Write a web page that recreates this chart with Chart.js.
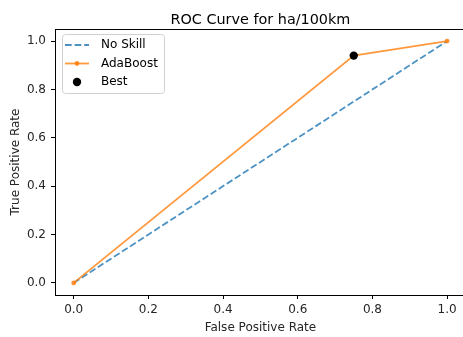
<!DOCTYPE html>
<html>
<head>
<meta charset="utf-8">
<script src="https://cdn.jsdelivr.net/npm/chart.js@4.4.0/dist/chart.umd.min.js"></script>
<style>
  html, body { margin: 0; padding: 0; background: #fff; overflow: hidden; }
  #wrap { width: 463px; height: 337px; overflow: hidden; position: relative; }
  canvas { position: absolute; left: 0; top: 0; }
</style>
</head>
<body>
<div id="wrap"><canvas id="roc" width="470" height="337" style="width:470px;height:337px"></canvas></div>
<script>
// ROC data
const noSkillX = [0, 1];
const noSkillY = [0, 1];
const adaX = [0, 0.75, 1];
const adaY = [0, 0.94, 1];
const bestX = [0.75];
const bestY = [0.94];
const xTicks = [0, 0.2, 0.4, 0.6, 0.8, 1.0];
const yTicks = [0, 0.2, 0.4, 0.6, 0.8, 1.0];
const titleText = 'ROC Curve for ha/100km';

const FONT = 'DejaVu Sans';
const toPoints = (xs, ys) => xs.map((x, i) => ({x: x, y: ys[i]}));

// title, top/right spines and the matplotlib-like legend
const extras = {
    id: 'extras',
    afterDraw(chart) {
        const ctx = chart.ctx;
        const a = chart.chartArea;
        ctx.save();
        ctx.strokeStyle = '#000';
        ctx.lineWidth = 1;
        ctx.beginPath();
        ctx.moveTo(a.left, a.top + 0.5);
        ctx.lineTo(a.right, a.top + 0.5);
        ctx.lineTo(a.right - 0.5, a.bottom);
        ctx.stroke();

        ctx.fillStyle = '#000';
        ctx.font = '14.4px "' + FONT + '"';
        ctx.textAlign = 'center';
        ctx.textBaseline = 'alphabetic';
        ctx.fillText(titleText, (a.left + a.right) / 2, 24);

        // legend box
        const bx = 62, by = 34, bw = 102, bh = 59;
        ctx.fillStyle = 'rgba(255,255,255,0.8)';
        ctx.strokeStyle = '#d0d0d0';
        ctx.beginPath();
        ctx.roundRect(bx + 0.5, by + 0.5, bw, bh, 3);
        ctx.fill();
        ctx.stroke();

        const rows = [45, 63.5, 82];
        chart.data.datasets.forEach((ds, i) => {
            const y = rows[i];
            if (ds.showLine) {
                ctx.strokeStyle = ds.borderColor;
                ctx.lineWidth = ds.borderWidth;
                ctx.setLineDash(ds.borderDash || []);
                ctx.beginPath();
                ctx.moveTo(65, y);
                ctx.lineTo(89, y);
                ctx.stroke();
                ctx.setLineDash([]);
            }
            if (ds.pointRadius > 0) {
                ctx.fillStyle = ds.pointBackgroundColor;
                ctx.beginPath();
                ctx.arc(77, y, ds.pointRadius, 0, Math.PI * 2);
                ctx.fill();
            }
            ctx.fillStyle = '#000';
            ctx.font = '12px "' + FONT + '"';
            ctx.textAlign = 'left';
            ctx.textBaseline = 'middle';
            ctx.fillText(ds.label, 101, y);
        });
        ctx.restore();
    }
};

new Chart(document.getElementById('roc'), {
    type: 'scatter',
    data: {
        datasets: [{
            label: 'No Skill',
            data: toPoints(noSkillX, noSkillY),
            showLine: true,
            borderColor: 'rgba(31,119,180,0.8)',
            borderWidth: 1.8,
            borderDash: [6.7, 2.9],
            pointRadius: 0,
            order: 3
        }, {
            label: 'AdaBoost',
            data: toPoints(adaX, adaY),
            showLine: true,
            borderColor: 'rgba(255,127,14,0.8)',
            borderWidth: 1.8,
            pointRadius: 2.4,
            pointBorderWidth: 0,
            pointBackgroundColor: 'rgba(255,127,14,0.85)',
            order: 2
        }, {
            label: 'Best',
            data: toPoints(bestX, bestY),
            showLine: false,
            pointRadius: 4.2,
            pointBorderWidth: 0,
            pointBackgroundColor: '#000',
            order: 1
        }]
    },
    options: {
        responsive: false,
        animation: false,
        devicePixelRatio: 1,
        layout: { padding: { top: 29, right: 3, left: 0, bottom: 0 } },
        plugins: { legend: { display: false }, tooltip: { enabled: false } },
        scales: {
            x: {
                type: 'linear',
                min: -0.05,
                max: 1.05,
                afterBuildTicks: s => { s.ticks = xTicks.map(v => ({value: v})); },
                afterFit: s => { s.height = 42; },
                ticks: {
                    color: '#262626',
                    font: { family: FONT, size: 12 },
                    padding: 4,
                    maxRotation: 0,
                    callback: v => v.toFixed(1)
                },
                grid: { drawOnChartArea: false, color: '#000', tickLength: 4, lineWidth: 1 },
                border: { color: '#000', width: 1 },
                title: {
                    display: true,
                    text: 'False Positive Rate',
                    color: '#262626',
                    font: { family: FONT, size: 12 },
                    padding: { top: 0, bottom: 2 }
                }
            },
            y: {
                type: 'linear',
                min: -0.05,
                max: 1.05,
                afterBuildTicks: s => { s.ticks = yTicks.map(v => ({value: v})); },
                afterFit: s => { s.width = 55; },
                ticks: {
                    color: '#262626',
                    font: { family: FONT, size: 12 },
                    padding: 5,
                    callback: v => v.toFixed(1)
                },
                grid: { drawOnChartArea: false, color: '#000', tickLength: 4, lineWidth: 1 },
                border: { color: '#000', width: 1 },
                title: {
                    display: true,
                    text: 'True Positive Rate',
                    color: '#262626',
                    font: { family: FONT, size: 12 },
                    padding: { top: 9, bottom: 0 }
                }
            }
        }
    },
    plugins: [extras]
});
</script>
</body>
</html>
